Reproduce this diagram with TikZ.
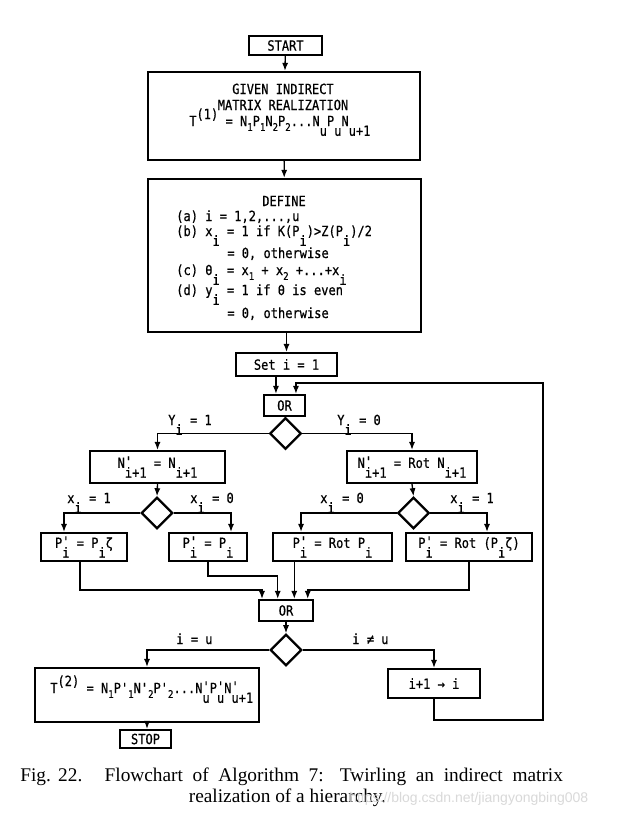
\documentclass[tikz,border=0pt]{standalone}
\usepackage{fontspec}
\usetikzlibrary{shapes.geometric,arrows.meta}
\newfontfamily\diag[FakeStretch=0.86,FakeBold=0.6]{DejaVu Sans Mono}
\newfontfamily\capfont{Liberation Serif}
\newfontfamily\wmfont{Liberation Sans}
\newcommand\dnsub[1]{\raisebox{-0.7em}{#1}}
\newcommand\upsup[1]{\raisebox{0.5em}{#1}}
\newcommand\smsub[1]{\raisebox{-0.35em}{\scalebox{0.75}{#1}}}
\newcommand\prm{\rlap{\raisebox{0.1em}{'}}}
\begin{document}
\begin{tikzpicture}[x=0.75pt,y=-0.75pt,
  box/.style={draw, line width=1.7pt, inner sep=0pt, font=\diag\fontsize{10.5}{12}\selectfont},
  dia/.style={draw, diamond, line width=1.7pt, inner sep=0pt, minimum width=23.5pt, minimum height=23.5pt},
  con/.style={line width=1pt},
  arr/.style={con, -{Latex[length=6pt,width=4.6pt]}},
  lbl/.style={font=\diag\fontsize{10.5}{12}\selectfont, inner sep=0pt, anchor=base west},
  txt/.style={font=\diag\fontsize{10.5}{12}\selectfont, inner sep=0pt, anchor=base}
]
\useasboundingbox[fill=white] (0,0) rectangle (629,817);

% boxes
\node[box, minimum width=54.75pt, minimum height=14.25pt] (start) at (285.5,45.5) {START};
\node[box, minimum width=204pt, minimum height=66pt] (given) at (284,116) {};
\node[box, minimum width=204.75pt, minimum height=114.75pt] (define) at (284.5,255.5) {};
\node[box, minimum width=75.75pt, minimum height=17.25pt] (set) at (286.5,364.5) {Set i = 1};
\node[box, minimum width=30.75pt, minimum height=15.75pt] (or1) at (284.5,405.5) {OR};
\node[dia] (d1) at (285.5,433.5) {};
\node[box, minimum width=101.25pt, minimum height=24pt] (nl) at (157.5,467) {N\prm\dnsub{i+1} = N\dnsub{i+1}};
\node[box, minimum width=97.5pt, minimum height=24pt] (nr) at (412,467) {N\prm\dnsub{i+1} = Rot N\dnsub{i+1}};
\node[dia] (dl) at (157,513) {};
\node[dia] (dr) at (413.5,513) {};
\node[box, minimum width=64.5pt, minimum height=21pt] (p1) at (84,547) {P\prm\dnsub{i} = P\dnsub{i}ζ};
\node[box, minimum width=58.5pt, minimum height=21pt] (p2) at (208,547) {P\prm\dnsub{i} = P\dnsub{i}};
\node[box, minimum width=89.25pt, minimum height=21pt] (p3) at (332.5,547) {P\prm\dnsub{i} = Rot P\dnsub{i}};
\node[box, minimum width=94.5pt, minimum height=21pt] (p4) at (469,547) {P\prm\dnsub{i} = Rot (P\dnsub{i}ζ)};
\node[box, minimum width=40.5pt, minimum height=15.75pt] (or2) at (286,610.5) {OR};
\node[dia] (d3) at (286,650) {};
\node[box, minimum width=168pt, minimum height=40.5pt] (t2) at (147,695) {};
\node[box, minimum width=69pt, minimum height=21.75pt] (iplus) at (434,683.5) {i+1 → i};
\node[box, minimum width=38.25pt, minimum height=13.5pt] (stop) at (145.5,739) {STOP};

% texts in multi-line boxes
\node[txt] (g1) at (283,94) {GIVEN INDIRECT};
\node[txt] (g2) at (283,110) {MATRIX REALIZATION};
\node[lbl] (g3) at (189,126) {T\upsup{(1)} = N\smsub{1}P\smsub{1}N\smsub{2}P\smsub{2}...N\dnsub{u}P\dnsub{u}N\dnsub{u+1}};

\node[txt] (df0) at (284,206) {DEFINE};
\node[lbl] (dfa) at (176,221) {(a) i = 1,2,...,u};
\node[lbl] (dfb) at (176,236) {(b) x\dnsub{i} = 1 if K(P\dnsub{i})>Z(P\dnsub{i})/2};
\node[lbl] (dfb2) at (227,258) {= 0, otherwise};
\node[lbl] (dfc) at (176,275) {(c) θ\dnsub{i} = x\smsub{1} + x\smsub{2} +...+x\dnsub{i}};
\node[lbl] (dfd) at (176,295) {(d) y\dnsub{i} = 1 if θ is even};
\node[lbl] (dfd2) at (227,318) {= 0, otherwise};

\node[lbl] (t2t) at (50,693) {T\upsup{(2)} = N\smsub{1}P'\smsub{1}N'\smsub{2}P'\smsub{2}...N\prm\dnsub{u}P\prm\dnsub{u}N\prm\dnsub{u+1}};

% branch labels
\node[lbl] (la) at (168,425) {Y\dnsub{i} = 1};
\node[lbl] (lb) at (337,425) {Y\dnsub{i} = 0};
\node[lbl] (lc) at (67,503) {x\dnsub{i} = 1};
\node[lbl] (ld) at (190,503) {x\dnsub{i} = 0};
\node[lbl] (le) at (320,503) {x\dnsub{i} = 0};
\node[lbl] (lf) at (450,503) {x\dnsub{i} = 1};
\node[lbl] (lg) at (176,644) {i = u};
\node[lbl] (lh) at (352,644) {i ≠ u};

% connectors
\draw[arr] (start) -- (given);
\draw[arr] (given) -- (define);
\draw[arr] (define.south -| set.north) -- (set.north);
\draw[arr] ([xshift=-7.9pt]set.south) -- ([xshift=-7.9pt]set.south |- or1.north);
\coordinate (lp1) at (543,720);
\coordinate (lp2) at (543,383);
\draw[arr] (iplus.south) |- (lp1) -- (lp2) -| ([xshift=8.6pt]or1.north);
\draw[con] (or1.south) -- (d1.north);
\draw[arr] (d1.west) -| (nl.north);
\draw[arr] (d1.east) -| (nr.north);
\draw[arr] (nl.south) -- (dl.north);
\draw[arr] (nr.south) -- (dr.north);
\draw[arr] (dl.west) -| ([xshift=-15pt]p1.north);
\draw[arr] (dl.east) -| ([xshift=17.25pt]p2.north);
\draw[arr] (dr.west) -| ([xshift=-23.6pt]p3.north);
\draw[arr] (dr.east) -| ([xshift=13.5pt]p4.north);

\coordinate (in1) at ([xshift=-18pt]or2.north);
\coordinate (in2) at ([xshift=-6.2pt]or2.north);
\coordinate (in3) at ([xshift=6.2pt]or2.north);
\coordinate (in4) at ([xshift=16.3pt]or2.north);
\draw[arr] ([xshift=-3pt]p1.south) -- ++(0,28) -| (in1);
\draw[arr] (p2.south) -- ++(0,14) -| (in2);
\draw[arr] (p3.south -| in3) -- (in3);
\draw[arr] (p4.south) -- ++(0,28) -| (in4);

\draw[arr] (or2.south) -- (d3.north);
\draw[arr] (d3.west) -| (t2.north);
\draw[arr] (d3.east) -| (iplus.north);
\draw[arr] (t2.south) -- (t2.south |- stop.north);

% caption
\node[anchor=base west, inner sep=0pt, font=\capfont\fontsize{14.5}{17}\selectfont] (cap1) at (20,781)
  {\makebox[407pt][s]{Fig.\kern5.5pt22.\kern1pt{} Flowchart of Algorithm 7: Twirling an indirect matrix}};
\node[anchor=base, inner sep=0pt, font=\capfont\fontsize{14.5}{17}\selectfont] (cap2) at (287.5,802)
  {realization of a hierarchy.};
\node[anchor=base west, inner sep=0pt, text=black!15, font=\wmfont\fontsize{10.5}{12}\selectfont] (wm) at (349,802)
  {https://blog.csdn.net/jiangyongbing008};
\end{tikzpicture}
\end{document}
